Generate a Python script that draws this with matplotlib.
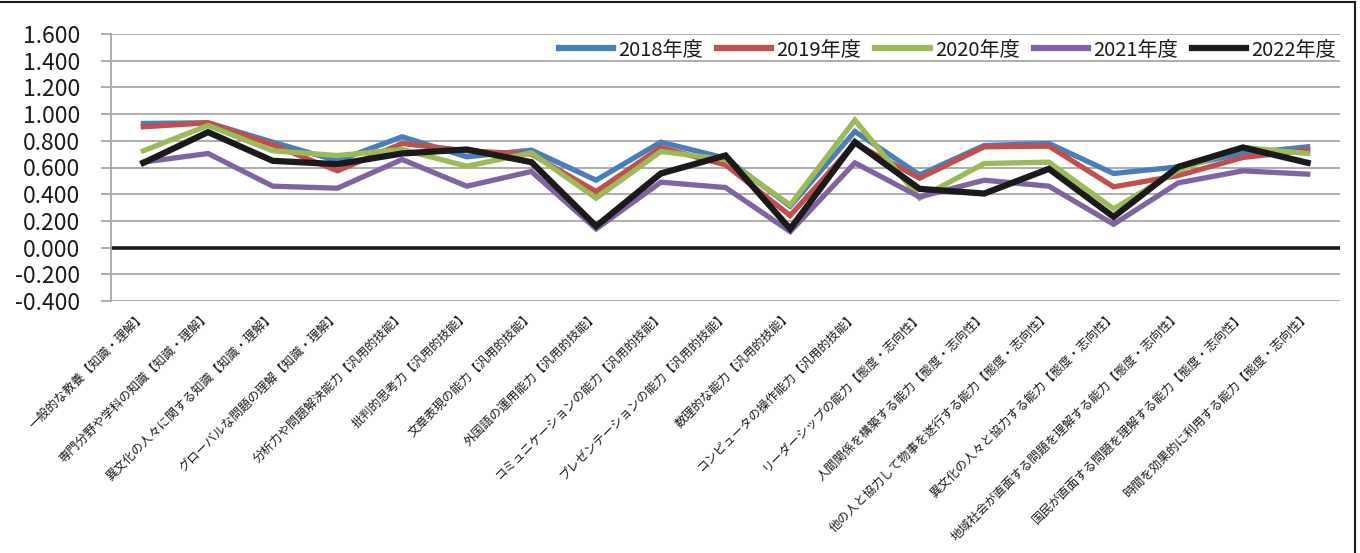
import matplotlib
matplotlib.use("Agg")
import matplotlib.pyplot as plt
from matplotlib.lines import Line2D

plt.rcParams['font.family'] = ['Noto Sans CJK JP', 'DejaVu Sans']
plt.rcParams['axes.unicode_minus'] = False

categories = [
    "一般的な教養【知識・理解】",
    "専門分野や学科の知識【知識・理解】",
    "異文化の人々に関する知識【知識・理解】",
    "グローバルな問題の理解【知識・理解】",
    "分析力や問題解決能力【汎用的技能】",
    "批判的思考力【汎用的技能】",
    "文章表現の能力【汎用的技能】",
    "外国語の運用能力【汎用的技能】",
    "コミュニケーションの能力【汎用的技能】",
    "プレゼンテーションの能力【汎用的技能】",
    "数理的な能力【汎用的技能】",
    "コンピュータの操作能力【汎用的技能】",
    "リーダーシップの能力【態度・志向性】",
    "人間関係を構築する能力【態度・志向性】",
    "他の人と協力して物事を遂行する能力【態度・志向性】",
    "異文化の人々と協力する能力【態度・志向性】",
    "地域社会が直面する問題を理解する能力【態度・志向性】",
    "国民が直面する問題を理解する能力【態度・志向性】",
    "時間を効果的に利用する能力【態度・志向性】",
]

y2018 = [0.930, 0.935, 0.790, 0.650, 0.830, 0.680, 0.730, 0.505, 0.790, 0.670,
         0.310, 0.870, 0.545, 0.765, 0.780, 0.555, 0.605, 0.705, 0.755]
y2019 = [0.905, 0.935, 0.770, 0.575, 0.780, 0.725, 0.700, 0.420, 0.750, 0.620,
         0.240, 0.780, 0.520, 0.755, 0.760, 0.455, 0.540, 0.675, 0.730]
y2020 = [0.725, 0.915, 0.725, 0.690, 0.735, 0.610, 0.710, 0.370, 0.720, 0.660,
         0.320, 0.955, 0.370, 0.630, 0.640, 0.290, 0.580, 0.750, 0.705]
y2021 = [0.640, 0.705, 0.460, 0.445, 0.660, 0.460, 0.570, 0.140, 0.490, 0.450,
         0.120, 0.635, 0.380, 0.505, 0.460, 0.175, 0.485, 0.575, 0.550]
y2022 = [0.635, 0.865, 0.650, 0.625, 0.705, 0.735, 0.640, 0.160, 0.555, 0.690,
         0.140, 0.790, 0.440, 0.405, 0.590, 0.230, 0.605, 0.750, 0.635]

series = [
    ("2018年度", y2018, "#4a7ebb", 3.8),
    ("2019年度", y2019, "#c0504d", 3.8),
    ("2020年度", y2020, "#9bbb59", 3.8),
    ("2021年度", y2021, "#8064a2", 3.8),
    ("2022年度", y2022, "#1a1a1a", 4.5),
]

grid_color = "#a6a6a6"
text_color = "#1a1a1a"

fig = plt.figure(figsize=(13.6, 5.53), dpi=100)
ax = fig.add_axes([111 / 1360, 1 - 301 / 553, 1229 / 1360, 267 / 553])

x = list(range(len(categories)))
for name, vals, color, lw in series:
    ax.plot(x, vals, color=color, lw=lw, label=name, solid_joinstyle='miter', zorder=3)

ax.axhline(0, color="#1a1a1a", lw=2.6, zorder=2)

ax.set_xlim(-0.5, len(categories) - 0.5)
ax.set_ylim(-0.4, 1.6)
ax.set_yticks([-0.4 + 0.2 * i for i in range(11)])
ax.yaxis.set_major_formatter(matplotlib.ticker.FormatStrFormatter('%.3f'))
ax.grid(axis='y', color=grid_color, lw=1.3, zorder=1)
ax.tick_params(axis='y', length=7, width=1.3, color=grid_color, pad=15,
               labelsize=16.5, labelcolor=text_color)

ax.set_xticks(x)
ax.set_xticklabels(categories, rotation=45, ha='right', va='center',
                   rotation_mode='anchor', fontsize=8.8, color=text_color)
ax.tick_params(axis='x', length=0, pad=9)

for s in ['top', 'right', 'bottom']:
    ax.spines[s].set_visible(False)
ax.spines['left'].set_color(grid_color)
ax.spines['left'].set_linewidth(1.3)

leg = fig.legend(loc='center right', bbox_to_anchor=(1336 / 1360, 1 - 50 / 553),
                 ncol=5, frameon=False, fontsize=14.5, handlelength=2.7,
                 handletextpad=0.25, columnspacing=0.7, borderpad=0, borderaxespad=0)
for h in leg.get_lines():
    h.set_linewidth(4.5)
for t in leg.get_texts():
    t.set_color(text_color)

# outer frame (top and right edges)
fig.add_artist(Line2D([0, 1355 / 1360], [1 - 1.5 / 553, 1 - 1.5 / 553],
                      transform=fig.transFigure, color="#1a1a1a", lw=1.5))
fig.add_artist(Line2D([1355 / 1360, 1355 / 1360], [0, 1 - 1.5 / 553],
                      transform=fig.transFigure, color="#1a1a1a", lw=1.5))

fig.savefig("out.png", dpi=100)
